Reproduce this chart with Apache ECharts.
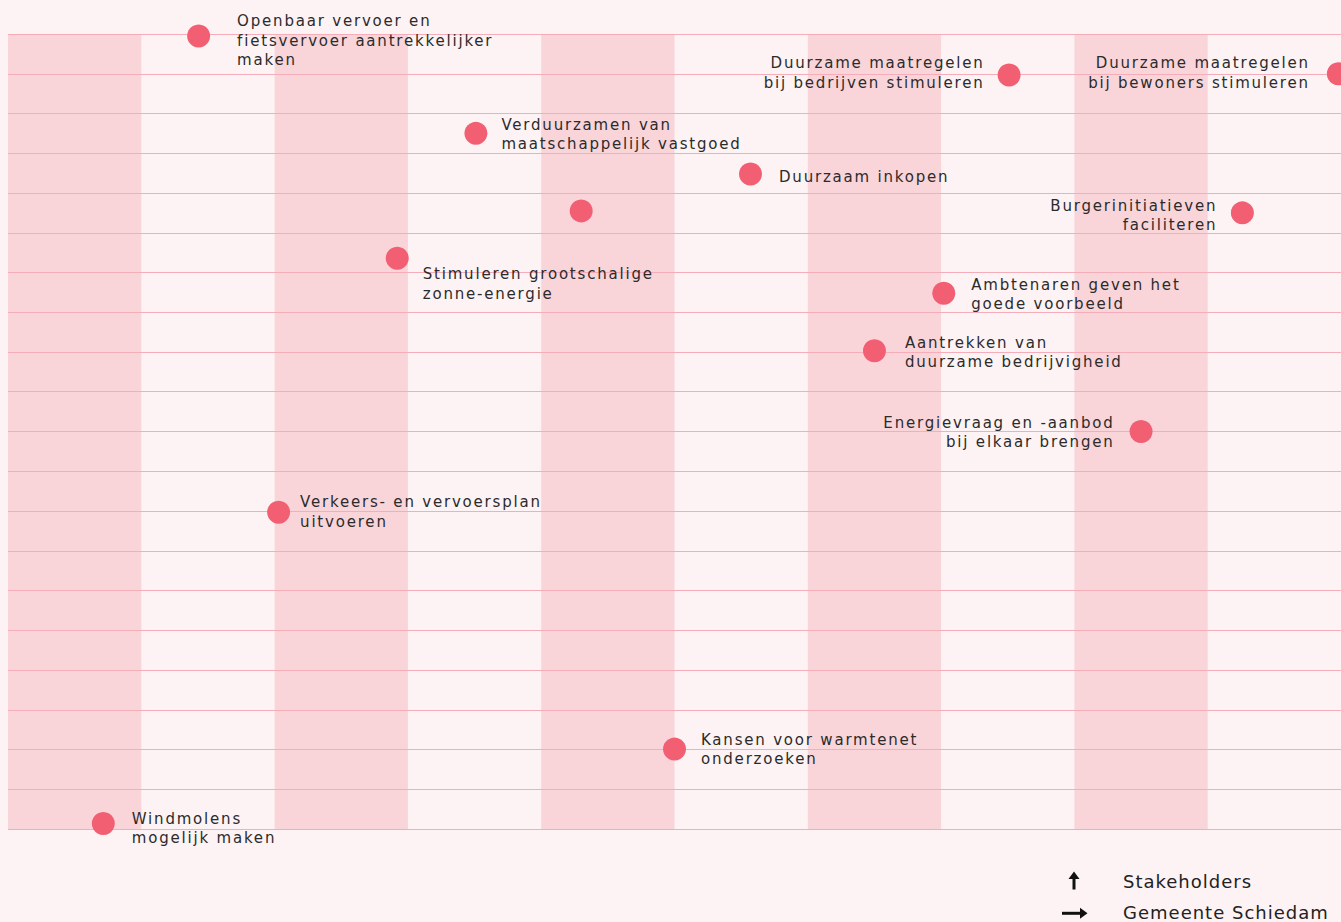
<!DOCTYPE html>
<html>
<head>
<meta charset="utf-8">
<script src="https://cdn.jsdelivr.net/npm/echarts@6/dist/echarts.min.js"></script>
<style>
  html, body { margin: 0; padding: 0; background: #fdf3f4; }
  #chart { width: 1341px; height: 922px; }
  #chart svg text { letter-spacing: 1.8px; }
  #chart svg text[style*="18px"] { letter-spacing: 1px; }
</style>
</head>
<body>
<div id="chart"></div>
<script>
// Measures: x = Gemeente Schiedam (0-10), y = Stakeholders (0-20)
const measureNames = [
  "Openbaar vervoer en\nfietsvervoer aantrekkelijker\nmaken",
  "Duurzame maatregelen\nbij bedrijven stimuleren",
  "Duurzame maatregelen\nbij bewoners stimuleren",
  "Verduurzamen van\nmaatschappelijk vastgoed",
  "Duurzaam inkopen",
  "",
  "Burgerinitiatieven\nfaciliteren",
  "Stimuleren grootschalige\nzonne-energie",
  "Ambtenaren geven het\ngoede voorbeeld",
  "Aantrekken van\nduurzame bedrijvigheid",
  "Energievraag en -aanbod\nbij elkaar brengen",
  "Verkeers- en vervoersplan\nuitvoeren",
  "Kansen voor warmtenet\nonderzoeken",
  "Windmolens\nmogelijk maken"
];
const gemeenteValues = [1.43, 7.51, 9.98, 3.51, 5.57, 4.30, 9.26, 2.92, 7.02, 6.50, 8.50, 2.03, 5.00, 0.715];
const stakeholderValues = [19.95, 18.97, 19.0, 17.5, 16.48, 15.55, 15.5, 14.36, 13.48, 12.03, 10.0, 7.97, 2.01, 0.14];

const legendItems = ["Stakeholders", "Gemeente Schiedam"];

// label styling (not data)
const leftLabelled = new Set([1, 2, 6, 10]);
const labelShift = {
  0: [12, 5], 1: [2, -2], 2: [-2, -1], 3: [-1, 1], 4: [2, 3], 6: [1.5, 2.5],
  7: [-1, 26], 8: [1, 1.5], 9: [4, 1.5], 10: [0, 1], 11: [-5, 0], 12: [0, 0.5], 13: [2, 5]
};

const seriesData = measureNames.map((n, i) => {
  const item = { name: n, value: [gemeenteValues[i], stakeholderValues[i]] };
  const lbl = { show: n !== '' };
  if (leftLabelled.has(i)) { lbl.position = 'left'; lbl.align = 'right'; }
  item.label = lbl;
  return item;
});

const chart = echarts.init(document.getElementById('chart'), null, { renderer: 'svg' });
chart.setOption({
  backgroundColor: '#fdf3f4',
  animation: false,
  grid: { left: 8, right: 0, top: 34, bottom: 93, containLabel: false },
  xAxis: {
    type: 'value', min: 0, max: 10, interval: 1, z: 0,
    axisLine: { show: false }, axisTick: { show: false }, axisLabel: { show: false },
    splitLine: { show: false },
    splitArea: { show: true, areaStyle: { color: ['#f9d5da', 'rgba(0,0,0,0)'] } }
  },
  yAxis: {
    type: 'value', min: 0, max: 20, interval: 1, z: 1,
    axisLine: { show: false }, axisTick: { show: false }, axisLabel: { show: false },
    splitLine: { show: true, lineStyle: { color: '#f5adb9', width: 1.2 } }
  },
  series: [{
    type: 'scatter',
    z: 3,
    symbolSize: 23,
    itemStyle: { color: '#f25f73', opacity: 1 },
    clip: false,
    label: {
      show: true,
      position: 'right',
      distance: 15,
      formatter: p => p.name,
      color: '#2b2b2b',
      fontFamily: 'DejaVu Sans',
      fontSize: 15,
      lineHeight: 19.5,
      align: 'left',
      verticalAlign: 'middle'
    },
    labelLayout: function (params) {
      const s = labelShift[params.dataIndex] || [0, 0];
      return { dx: s[0], dy: s[1], hideOverlap: false };
    },
    data: seriesData
  }],
  graphic: [
    { type: 'rect', shape: { x: 1072.5, y: 877, width: 3, height: 12.5 }, style: { fill: '#111' } },
    { type: 'polygon', shape: { points: [[1068.5, 879], [1074, 871.5], [1079.5, 879]] }, style: { fill: '#111' } },
    { type: 'rect', shape: { x: 1062, y: 911.8, width: 19, height: 3 }, style: { fill: '#111' } },
    { type: 'polygon', shape: { points: [[1080, 907.8], [1087.5, 913.3], [1080, 918.8]] }, style: { fill: '#111' } },
    { type: 'text', left: 1123, top: 872, style: { text: legendItems[0], font: '18px DejaVu Sans', fill: '#222' } },
    { type: 'text', left: 1123, top: 903, style: { text: legendItems[1], font: '18px DejaVu Sans', fill: '#222' } }
  ]
});
</script>
</body>
</html>
